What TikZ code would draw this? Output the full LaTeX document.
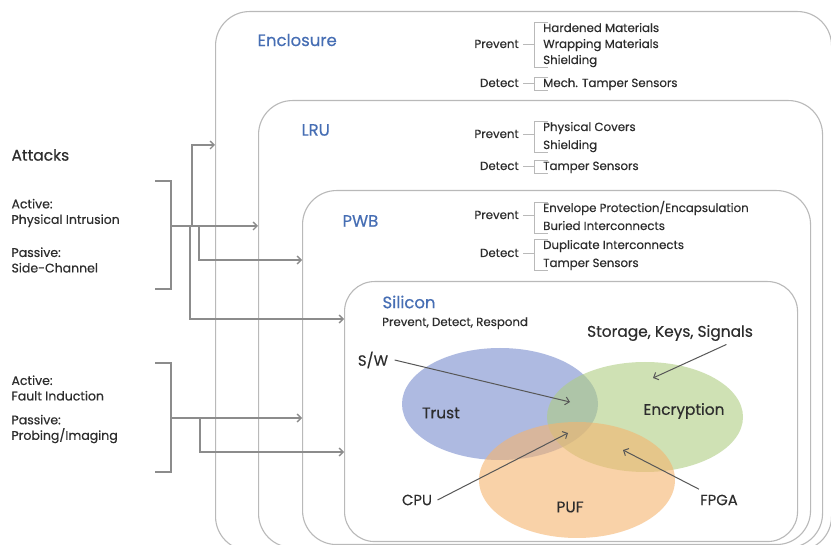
\documentclass[tikz,border=0pt]{standalone}
\usepackage{fontspec}
\setmainfont{Poppins}[FakeBold=0.4]
\usepackage{tikz}
\usetikzlibrary{shapes.geometric, arrows.meta, positioning}
\definecolor{layerline}{RGB}{185,185,185}
\definecolor{titleblue}{RGB}{70,110,180}
\definecolor{atkgray}{RGB}{140,140,140}
\definecolor{txtgray}{RGB}{45,45,45}
\definecolor{trustblue}{RGB}{120,140,205}
\definecolor{encgreen}{RGB}{175,205,130}
\definecolor{puforange}{RGB}{245,180,110}

\begin{document}
\begin{tikzpicture}[
    x=1pt, y=-1pt,
    layer/.style={draw=layerline, fill=white, line width=1.1pt, rectangle, rounded corners=34pt, anchor=north west, inner sep=0pt},
    title/.style={anchor=west, text=titleblue, font=\fontsize{16.5}{18}\selectfont},
    attack/.style={anchor=west, align=left, text=txtgray, font=\fontsize{12.5}{15.5}\selectfont},
    item/.style={anchor=west, inner sep=1pt, text=txtgray, text height=8.5pt, text depth=2.5pt, font=\fontsize{11.8}{13}\selectfont},
    tag/.style={item, anchor=east},
    brk/.style={draw=layerline, line width=1pt},
    blob/.style={ellipse, draw=none, fill opacity=0.6, minimum width=196pt, minimum height=112pt},
    venn/.style={text=txtgray, font=\fontsize{15.4}{17}\selectfont},
    atk/.style={draw=atkgray, line width=1.3pt, -{Straight Barb[length=4pt, width=8pt]}},
    ptr/.style={draw=txtgray!80, line width=1pt, -{Straight Barb[length=4pt, width=8pt]}}
]
    \useasboundingbox (0,0) rectangle (831,545);

    % Layers
    \node (encl) [layer, minimum width=616pt, minimum height=539pt] at (215,11) {};
    \node (lru) [layer, minimum width=564pt, minimum height=447pt] at (258,100) {};
    \node (pwb) [layer, minimum width=508pt, minimum height=354pt] at (302,190) {};
    \node (sil) [layer, minimum width=453pt, minimum height=260pt, rounded corners=30pt] at (344,281) {};

    \node (enclT) [title] at (254,40) {Enclosure};
    \node (lruT) [title] at (298,130) {LRU};
    \node (pwbT) [title] at (339,221) {PWB};
    \node (silT) [title] at (379,302) {Silicon};
    \node (silS) [item] at (381,323) {Prevent, Detect, Respond};

    % Enclosure measures
    \node (eA) [item] at (542,29) {Hardened Materials};
    \node (eB) [item] at (542,45) {Wrapping Materials};
    \node (eC) [item] at (542,61) {Shielding};
    \node (eD) [item] at (542,84) {Mech. Tamper Sensors};
    \node (ePv) [tag] at (520,45) {Prevent};
    \node (eDt) [tag] at (520,84) {Detect};

    % LRU measures
    \node (lA) [item] at (542,128) {Physical Covers};
    \node (lB) [item] at (542,146) {Shielding};
    \node (lC) [item] at (542,167) {Tamper Sensors};
    \node (lPv) [tag] at (520,135) {Prevent};
    \node (lDt) [tag] at (520,167) {Detect};

    % PWB measures
    \node (pA) [item] at (542,209) {Envelope Protection/Encapsulation};
    \node (pB) [item] at (542,227) {Buried Interconnects};
    \node (pC) [item] at (542,246) {Duplicate Interconnects};
    \node (pD) [item] at (542,264) {Tamper Sensors};
    \node (pPv) [tag] at (520,216) {Prevent};
    \node (pDt) [tag] at (520,254) {Detect};

    % Brackets
    \foreach \a/\b/\t in {eA/eC/ePv, eD/eD/eDt, lA/lB/lPv, lC/lC/lDt, pA/pB/pPv, pC/pD/pDt} {
        \draw [brk] ([xshift=6pt]\a.north west) -- ([xshift=-8pt]\a.north west)
            -- ([xshift=-8pt]\b.south west) -- ([xshift=6pt]\b.south west);
        \draw [brk] ([xshift=3pt]\t.east) -- ([xshift=-8pt]\t.east -| \a.west);
    }

    % Attacks
    \node (atkT) [attack, font=\fontsize{15.5}{17}\selectfont] at (8,155) {Attacks};
    \node (atkA) [attack] at (8,213) {Active:\\Physical Intrusion};
    \node (atkB) [attack] at (8,260) {Passive:\\Side-Channel};
    \node (atkC) [attack] at (8,388) {Active:\\Fault Induction};
    \node (atkD) [attack] at (8,429) {Passive:\\Probing/Imaging};

    \coordinate (g1top) at (155,181);
    \coordinate (g1bot) at (155,289);
    \coordinate (g1out) at (171,226);
    \coordinate (g2top) at (155,363);
    \coordinate (g2bot) at (155,472);
    \coordinate (g2out) at (171,418);
    \draw [draw=atkgray, line width=1.3pt] (g1top) -- ++(16,0) |- (g1bot);
    \draw [draw=atkgray, line width=1.3pt] (g2top) -- ++(16,0) |- (g2bot);

    \draw [atk] (g1out) -- (lru.west |- g1out);
    \draw [atk] ([xshift=21pt]g1out) |- (encl.west |- 0,145);
    \draw [atk] ([xshift=28pt]g1out) |- (pwb.west |- 0,260);
    \draw [atk] ([xshift=19pt]g1out) |- (sil.west |- 0,319);
    \draw [atk] (g2out) -- (pwb.west |- g2out);
    \draw [atk] ([xshift=29pt]g2out) |- (sil.west |- 0,452);

    % Venn
    \node (trust) [blob, fill=trustblue] at (500,404) {};
    \node (enc) [blob, fill=encgreen, minimum height=110pt] at (645,417) {};
    \node (puf) [blob, fill=puforange, minimum height=116pt] at (577,480) {};

    \node (trustL) [venn] at (441,413) {Trust};
    \node (encL) [venn] at (684,411) {Encryption};
    \node (pufL) [venn] at (570,507) {PUF};
    \node (sw) [venn, font=\fontsize{14.8}{16}\selectfont] at (373,360) {S/W};
    \node (store) [venn] at (670,333) {Storage, Keys, Signals};
    \node (cpu) [venn, font=\fontsize{14.8}{16}\selectfont] at (417,500) {CPU};
    \node (fpga) [venn, font=\fontsize{14.8}{16}\selectfont] at (719,500) {FPGA};

    \coordinate (swTip) at (570,402);
    \coordinate (storeTip) at (653,378);
    \coordinate (cpuTip) at (568,433);
    \coordinate (fpgaTip) at (623,450);
    \draw [ptr] ([xshift=3pt]sw.east) -- (swTip);
    \draw [ptr] ([xshift=-30pt]store.south east) -- (storeTip);
    \draw [ptr] ([xshift=2pt]cpu.east) -- (cpuTip);
    \draw [ptr] ([xshift=-20pt,yshift=2pt]fpga.north) -- (fpgaTip);
\end{tikzpicture}
\end{document}
